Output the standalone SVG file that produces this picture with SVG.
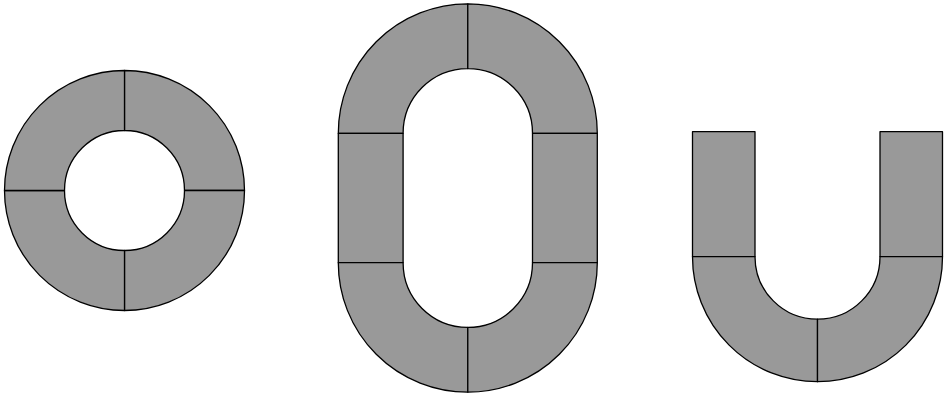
<svg xmlns="http://www.w3.org/2000/svg" width="944" height="395" viewBox="0 0 944 395">
<style>
.s{fill:#999999;stroke:#000000;stroke-width:1.3;stroke-linejoin:round}
</style>
<rect width="944" height="395" fill="#ffffff"/>
<g id="ring">
<path class="s" d="M124.5,70.5 A120,120 0 0 1 244.5,190.5 L184.5,190.5 A60,60 0 0 0 124.5,130.5 Z"/>
<path class="s" d="M244.5,190.5 A120,120 0 0 1 124.5,310.5 L124.5,250.5 A60,60 0 0 0 184.5,190.5 Z"/>
<path class="s" d="M124.5,310.5 A120,120 0 0 1 4.5,190.5 L64.5,190.5 A60,60 0 0 0 124.5,250.5 Z"/>
<path class="s" d="M4.5,190.5 A120,120 0 0 1 124.5,70.5 L124.5,130.5 A60,60 0 0 0 64.5,190.5 Z"/>
</g>
<g id="stadium">
<path class="s" d="M338.3,133.3 A129.5,129.5 0 0 1 467.8,3.8 L467.8,68.6 A64.7,64.7 0 0 0 403.1,133.3 Z"/>
<path class="s" d="M467.8,3.8 A129.5,129.5 0 0 1 597.3,133.3 L532.5,133.3 A64.7,64.7 0 0 0 467.8,68.6 Z"/>
<path class="s" d="M338.3,133.3 L403.1,133.3 L403.1,262.7 L338.3,262.7 Z"/>
<path class="s" d="M532.5,133.3 L597.3,133.3 L597.3,262.7 L532.5,262.7 Z"/>
<path class="s" d="M338.3,262.7 A129.5,129.5 0 0 0 467.8,392.2 L467.8,327.4 A64.7,64.7 0 0 1 403.1,262.7 Z"/>
<path class="s" d="M467.8,392.2 A129.5,129.5 0 0 0 597.3,262.7 L532.5,262.7 A64.7,64.7 0 0 1 467.8,327.4 Z"/>
</g>
<g id="ushape">
<path class="s" d="M692.5,131.7 L755,131.7 L755,256.7 L692.5,256.7 Z"/>
<path class="s" d="M880,131.7 L942.5,131.7 L942.5,256.7 L880,256.7 Z"/>
<path class="s" d="M692.5,256.7 A125,125 0 0 0 817.5,381.7 L817.5,319.2 A62.5,62.5 0 0 1 755,256.7 Z"/>
<path class="s" d="M817.5,381.7 A125,125 0 0 0 942.5,256.7 L880,256.7 A62.5,62.5 0 0 1 817.5,319.2 Z"/>
</g>
</svg>
